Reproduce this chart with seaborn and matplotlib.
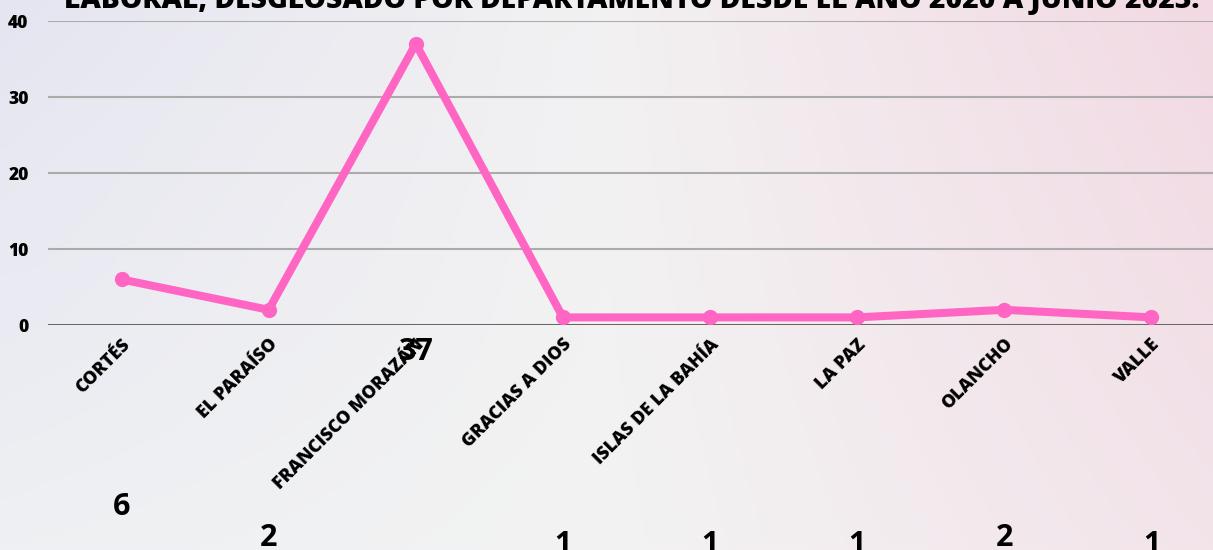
import matplotlib
matplotlib.use('Agg')
import matplotlib.pyplot as plt
import matplotlib.transforms as mtransforms
from matplotlib.colors import to_rgb
import seaborn as sns
import pandas as pd
import numpy as np

# data
departamentos = ['CORTÉS', 'EL PARAÍSO', 'FRANCISCO MORAZÁN', 'GRACIAS A DIOS',
                 'ISLAS DE LA BAHÍA', 'LA PAZ', 'OLANCHO', 'VALLE']
casos = [6, 2, 37, 1, 1, 1, 2, 1]
y_ticks = [0, 10, 20, 30, 40]
titulo = 'LABORAL, DESGLOSADO POR DEPARTAMENTO DESDE EL AÑO 2020 A JUNIO 2023.'

df = pd.DataFrame({'departamento': departamentos, 'casos': casos})
df['pos'] = range(len(df))

sns.set_style('white')
plt.rcParams['font.family'] = ['Open Sans', 'DejaVu Sans']
plt.rcParams['text.color'] = 'black'
plt.rcParams['xtick.color'] = 'black'
plt.rcParams['ytick.color'] = 'black'

W, H = 1213, 550
fig = plt.figure(figsize=(W / 100, H / 100), dpi=100)

# soft gradient background
bg = fig.add_axes([0, 0, 1, 1], zorder=0)
xs = np.linspace(0, 1, 300)
ys = np.linspace(0, 1, 140)[:, None]
def row(c_left, c_mid, c_right):
    l, m, r = (np.array(to_rgb(c)) for c in (c_left, c_mid, c_right))
    out = np.empty((len(xs), 3))
    for k in range(3):
        out[:, k] = np.interp(xs, [0, 0.5, 1], [l[k], m[k], r[k]])
    return out
top = row('#e5e5f1', '#f2f1f2', '#f2d9e3')
bottom = row('#eef0f3', '#f3f3f3', '#f3e4ea')
img = top[None, :, :] * (1 - ys[..., None]) + bottom[None, :, :] * ys[..., None]
bg.imshow(img, aspect='auto', extent=[0, 1, 1, 0])
bg.set_axis_off()

ax = fig.add_axes([48 / W, (H - 325) / H, 1177 / W, 304 / H], zorder=1)
ax.patch.set_alpha(0)

ax.set_yticks(y_ticks)
ax.yaxis.grid(True, color='#ababab', linewidth=1.5)
ax.axhline(0, color='#5f5f5f', linewidth=2, zorder=2)

sns.lineplot(data=df, x='pos', y='casos', ax=ax, color='#ff66c4', linewidth=5.8,
             marker='o', markersize=11, markeredgewidth=0, clip_on=False,
             solid_capstyle='round', solid_joinstyle='round', zorder=3)

ax.set_xlim(-0.5, len(df) - 0.5)
ax.set_ylim(0, 40)
ax.set_xlabel('')
ax.set_ylabel('')
for s in ax.spines.values():
    s.set_visible(False)
ax.tick_params(axis='both', length=0)
ax.tick_params(axis='y', pad=14)

ax.set_yticks(y_ticks)
ax.set_yticklabels([str(t) for t in y_ticks], fontsize=12.5, fontweight='heavy',
                   color='black')
ax.set_xticks(df['pos'])
ax.set_xticklabels(df['departamento'], rotation=45, ha='right', fontsize=13,
                   fontweight='heavy', color='black')
shift = mtransforms.ScaledTranslation(12 / 100, -6 / 100, fig.dpi_scale_trans)
for lab in ax.get_xticklabels():
    lab.set_transform(lab.get_transform() + shift)

# value labels sit well below the points
lab_y = np.minimum(df['casos'] - 30, -3.5)
for xp, yp, v in zip(df['pos'], lab_y, df['casos']):
    ax.text(xp, yp, str(v), ha='center', va='center', fontsize=22,
            fontweight='bold', color='black', clip_on=False)

fig.text(0.521, 1 - 8 / H, titulo, ha='center', va='baseline', fontsize=20.3,
         fontweight='heavy', color='black')

fig.savefig('out.png', dpi=100)
